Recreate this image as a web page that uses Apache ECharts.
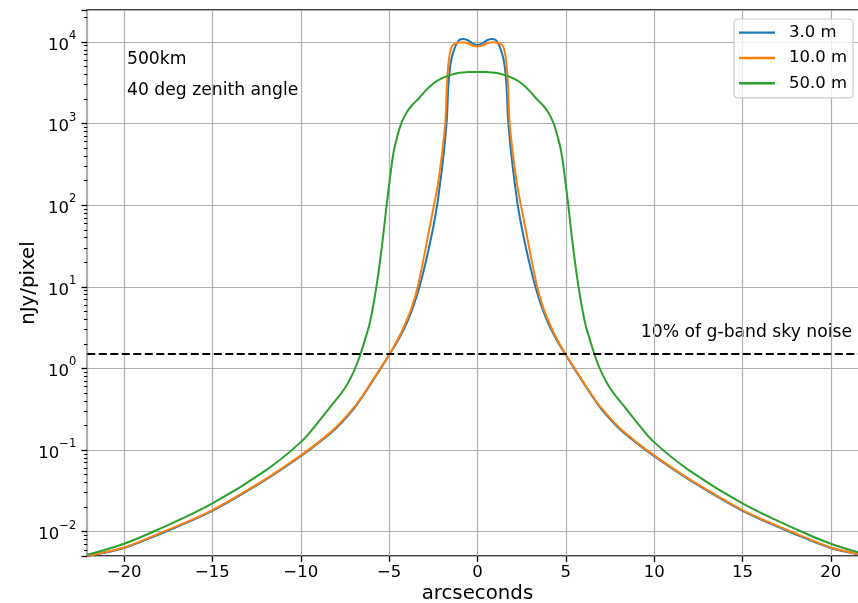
<!DOCTYPE html>
<html><head><meta charset="utf-8">
<script src="https://cdn.jsdelivr.net/npm/echarts@6/dist/echarts.min.js"></script>
<style>html,body{margin:0;padding:0;background:#fff}#c{width:858px;height:603px}</style>
</head><body><div id="c"></div>
<script>
// ---- data ----
const seriesNames = ['3.0 m', '10.0 m', '50.0 m'];

const blueX = [-22.08,-20,-18,-15,-12,-10,-9,-8,-7,-6.5,-6,-5.5,-4.97,-4.5,-4,-3.6,-3.28,-3,-2.75,-2.5,-2.28,-2.15,-2,-1.85,-1.73,-1.65,-1.55,-1.45,-1.3,-1.15,-1,-0.8,-0.55,-0.3,0,
               0.3,0.55,0.8,1,1.15,1.3,1.45,1.55,1.65,1.73,1.85,2,2.15,2.28,2.5,2.75,3,3.28,3.6,4,4.5,4.97,5.5,6,6.5,7,8,9,10,12,15,18,20,22.08];
const blueY = [0.00503,0.0063,0.0093,0.018,0.043,0.084,0.122,0.185,0.32,0.455,0.665,0.98,1.5,2.2,3.6,6,10,17.2,29.7,54,100,162,288,575,1150,2800,4900,6500,8300,9800,10700,10900,10500,9700,9200,
               9700,10500,10900,10700,9800,8300,6500,4900,2800,1150,575,288,162,100,54,29.7,17.2,10,6,3.6,2.2,1.5,0.98,0.665,0.455,0.32,0.185,0.122,0.084,0.043,0.018,0.0093,0.0063,0.00503];

const orangeX = [-22.08,-20,-18,-15,-12,-10,-9,-8,-7,-6.5,-6,-5.5,-4.97,-4.5,-4.1,-3.7,-3.38,-3,-2.7,-2.46,-2.25,-2.1,-1.95,-1.81,-1.73,-1.65,-1.55,-1.45,-1.3,-1.1,-0.85,-0.6,-0.3,0,
                 0.3,0.6,0.85,1.1,1.3,1.45,1.55,1.65,1.73,1.81,1.95,2.1,2.25,2.46,2.7,3,3.38,3.7,4.1,4.5,4.97,5.5,6,6.5,7,8,9,10,12,15,18,20,22.08];
const orangeY = [0.00505,0.0064,0.0095,0.0184,0.044,0.086,0.125,0.19,0.33,0.465,0.68,1.0,1.5,2.29,3.47,5.75,10,25,54.5,100,174,295,540,1100,3000,5200,7500,8800,9500,9800,9900,9700,9100,8800,
                 9100,9700,9900,9800,9500,8800,7500,5200,3000,1100,540,295,174,100,54.5,25,10,5.75,3.47,2.29,1.5,1.0,0.68,0.465,0.33,0.19,0.125,0.086,0.044,0.0184,0.0095,0.0064,0.00505];

const greenX = [-22.08,-20,-18,-15,-12,-10,-9,-8.26,-7.5,-6.94,-6.62,-6.35,-6.08,-5.72,-5.38,-5.14,-4.95,-4.76,-4.55,-4.3,-4,-3.7,-3.35,-3,-2.5,-2,-1.5,-1,-0.5,0,
                0.5,1,1.5,2,2.5,3,3.35,3.7,4,4.3,4.55,4.76,4.95,5.14,5.38,5.72,6.08,6.35,6.62,6.94,7.5,8.26,9,10,12,15,18,20,22.08];
const greenY = [0.0052,0.0071,0.0108,0.0222,0.056,0.125,0.222,0.352,0.575,0.98,1.5,2.3,3.7,10,35,100,215,430,680,1020,1380,1680,2000,2450,3100,3600,3950,4200,4280,4300,
                4280,4200,3950,3600,3100,2450,2000,1680,1380,1020,680,430,215,100,35,10,3.7,2.3,1.5,0.98,0.575,0.352,0.222,0.125,0.056,0.0222,0.0108,0.0071,0.0052];

const skyNoiseLevel = 1.5;
const xTickValues = [-20,-15,-10,-5,0,5,10,15,20];
const yTickExponents = [-2,-1,0,1,2,3,4];
const xRange = [-22.08, 22.08];
const yRange = [0.00503, 24660];

// ---- chart ----
const FONT = 'DejaVu Sans';
const colors = ['#1f77b4', '#ff7f0e', '#2ca02c'];
const pairs = (xs, ys) => xs.map((x, i) => [x, ys[i]]);
const minus = s => String(s).replace('-', '\u2212');

const chart = echarts.init(document.getElementById('c'), null, {renderer: 'canvas'});
chart.setOption({
  animation: false,
  backgroundColor: '#ffffff',
  textStyle: {fontFamily: FONT},
  grid: {left: 87.3, top: 10, right: -9.6, bottom: 47, show: true, borderColor: '#000', borderWidth: 1.3,
         containLabel: false, outerBoundsMode: 'none'},
  legend: {
    data: seriesNames, orient: 'vertical', left: 734, top: 19,
    icon: 'rect', itemWidth: 36, itemHeight: 2.4, itemGap: 0,
    padding: [1, 6, 2, 5],
    backgroundColor: 'rgba(255,255,255,0.8)', borderColor: '#cccccc', borderWidth: 1.2, borderRadius: 4,
    textStyle: {fontFamily: FONT, fontSize: 16.5, color: '#000', lineHeight: 25.3, padding: [0, 0, 0, 9]}
  },
  xAxis: {
    type: 'value', min: xRange[0], max: xRange[1], minInterval: 5, maxInterval: 5,
    name: 'arcseconds', nameLocation: 'middle', nameGap: 28, nameMoveOverlap: false,
    nameTextStyle: {fontFamily: FONT, fontSize: 19.8, color: '#000'},
    axisLine: {show: false, onZero: false},
    axisTick: {show: true, length: 5.8, lineStyle: {color: '#000', width: 1.3}},
    axisLabel: {fontFamily: FONT, fontSize: 16.5, color: '#000', margin: 8,
      showMinLabel: false, showMaxLabel: false,
      formatter: v => xTickValues.indexOf(Math.round(v * 1000) / 1000) >= 0 ? minus(v) : ''},
    splitLine: {show: true, lineStyle: {color: '#b0b0b0', width: 1.2}}
  },
  yAxis: {
    type: 'log', logBase: 10, min: yRange[0], max: yRange[1],
    name: 'nJy/pixel', nameLocation: 'middle', nameGap: 48, nameMoveOverlap: false,
    nameTextStyle: {fontFamily: FONT, fontSize: 19.8, color: '#000'},
    axisLine: {show: false, onZero: false},
    axisTick: {show: true, length: 5.8, lineStyle: {color: '#000', width: 1.3}},
    minorTick: {show: true, splitNumber: 9, length: 3.3, lineStyle: {color: '#000', width: 1}},
    axisLabel: {fontFamily: FONT, color: '#000', margin: 11,
      showMinLabel: false, showMaxLabel: false,
      formatter: v => {
        const l = Math.log10(v), e = Math.round(l);
        if (Math.abs(l - e) > 1e-6 || yTickExponents.indexOf(e) < 0) return '';
        return '{b|10}{s|' + minus(e) + '}';
      },
      rich: {
        b: {fontFamily: FONT, fontSize: 16.5, color: '#000', lineHeight: 24, verticalAlign: 'bottom'},
        s: {fontFamily: FONT, fontSize: 11.5, color: '#000', lineHeight: 24, verticalAlign: 'top'}
      }},
    splitLine: {show: true, lineStyle: {color: '#b0b0b0', width: 1.2}}
  },
  graphic: [
    {type: 'text', left: 127, top: 51, style: {text: '500km', fontFamily: FONT, fontSize: 17.2, fill: '#000'}},
    {type: 'text', left: 127, top: 82, style: {text: '40 deg zenith angle', fontFamily: FONT, fontSize: 17.2, fill: '#000'}},
    {type: 'text', right: 6, top: 324, style: {text: '10% of g-band sky noise', fontFamily: FONT, fontSize: 17.2, fill: '#000'}}
  ],
  series: [
    {name: seriesNames[0], type: 'line', data: pairs(blueX, blueY), showSymbol: false, smooth: 0.3,
     lineStyle: {color: colors[0], width: 2}, itemStyle: {color: colors[0]}, z: 2,
     markLine: {silent: true, symbol: 'none', label: {show: false},
       lineStyle: {color: '#000', type: [8, 3.5], width: 2.2},
       data: [{yAxis: skyNoiseLevel}]}},
    {name: seriesNames[1], type: 'line', data: pairs(orangeX, orangeY), showSymbol: false, smooth: 0.3,
     lineStyle: {color: colors[1], width: 2}, itemStyle: {color: colors[1]}, z: 3},
    {name: seriesNames[2], type: 'line', data: pairs(greenX, greenY), showSymbol: false, smooth: 0.4,
     lineStyle: {color: colors[2], width: 2}, itemStyle: {color: colors[2]}, z: 4}
  ]
});
</script></body></html>
